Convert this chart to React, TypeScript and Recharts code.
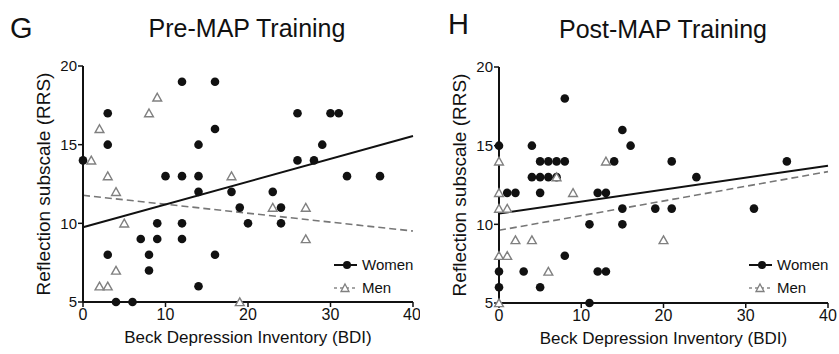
import React from 'react';
import { ScatterChart, Scatter, XAxis, YAxis, ReferenceLine, Legend } from 'recharts';

const FONT = '"Liberation Sans", Arial, Helvetica, sans-serif';

const bdiTicks = [0, 10, 20, 30, 40];
const rrsTicks = [5, 10, 15, 20];
const fitBdi = [0, 40];

// Pre-MAP training
const preWomenBdi = [0, 3, 3, 3, 4, 6, 7, 8, 8, 9, 9, 10, 12, 12, 12, 12, 14, 14, 14, 14, 16, 16, 16, 18, 19, 20, 23, 24, 24, 26, 26, 28, 29, 30, 31, 32, 36];
const preWomenRrs = [14, 17, 15, 8, 5, 5, 9, 8, 7, 10, 9, 13, 19, 13, 10, 9, 15, 13, 12, 6, 19, 16, 8, 12, 11, 10, 12, 11, 10, 17, 14, 14, 15, 17, 17, 13, 13];
const preMenBdi = [1, 2, 3, 4, 5, 4, 2, 3, 8, 9, 18, 19, 23, 27, 27];
const preMenRrs = [14, 16, 13, 12, 10, 7, 6, 6, 17, 18, 13, 5, 11, 11, 9];
const preWomenFit = [9.75, 15.55];
const preMenFit = [11.78, 9.51];

// Post-MAP training
const postWomenBdi = [0, 0, 0, 1, 2, 3, 4, 4, 5, 5, 5, 5, 6, 6, 7, 7, 8, 8, 8, 11, 11, 12, 13, 12, 13, 14, 15, 15, 15, 16, 19, 21, 21, 24, 31, 35];
const postWomenRrs = [15, 7, 6, 12, 12, 7, 15, 13, 14, 13, 12, 6, 14, 13, 14, 13, 18, 14, 8, 10, 5, 12, 12, 7, 7, 14, 16, 11, 10, 15, 11, 14, 11, 13, 11, 14];
const postMenBdi = [0, 0, 0, 0, 0, 1, 1, 2, 4, 6, 7, 9, 13, 20];
const postMenRrs = [14, 12, 11, 8, 5, 11, 8, 9, 9, 7, 13, 12, 14, 9];
const postWomenFit = [10.68, 13.73];
const postMenFit = [9.62, 13.35];

const zip = (xs: number[], ys: number[]) => xs.map((x, i) => ({ bdi: x, rrs: ys[i] }));

const Dot = (props: any) => <circle cx={props.cx} cy={props.cy} r={4.3} fill="#111" />;

const Tri = (props: any) => {
  const { cx, cy } = props;
  return (
    <path
      d={`M${cx},${cy - 4.2} L${cx + 4.4},${cy + 3.6} L${cx - 4.4},${cy + 3.6} Z`}
      fill="#fff"
      stroke="#808080"
      strokeWidth={1.4}
    />
  );
};

const LegendBox = () => (
  <div style={{ fontFamily: FONT, fontSize: 15, color: '#111' }}>
    <div style={{ display: 'flex', alignItems: 'center', height: 23 }}>
      <svg width={24} height={12} style={{ marginRight: 4 }}>
        <line x1={0} y1={6} x2={23} y2={6} stroke="#111" strokeWidth={2} />
        <circle cx={13} cy={6} r={4} fill="#111" />
      </svg>
      Women
    </div>
    <div style={{ display: 'flex', alignItems: 'center', height: 23 }}>
      <svg width={24} height={12} style={{ marginRight: 4 }}>
        <line x1={0} y1={6} x2={23} y2={6} stroke="#888" strokeWidth={1.4} strokeDasharray="3 3" />
        <path d="M11,2 L15,9.5 L7,9.5 Z" fill="#fff" stroke="#808080" strokeWidth={1.3} />
      </svg>
      Men
    </div>
  </div>
);

interface PanelProps {
  letter: string;
  title: string;
  women: { bdi: number; rrs: number }[];
  men: { bdi: number; rrs: number }[];
  womenFit: number[];
  menFit: number[];
  margin: { top: number; right: number; bottom: number; left: number };
  letterPos: { left: number; top: number };
  titleX: number;
  titleTop: number;
  legendLeft: number;
}

function Panel(p: PanelProps) {
  const axisStyle = { fontFamily: FONT, fill: '#111' };
  return (
    <div style={{ position: 'relative', width: 420, height: 354 }}>
      <div style={{ position: 'absolute', left: p.letterPos.left, top: p.letterPos.top, fontFamily: FONT, fontSize: 29, lineHeight: 1, color: '#111' }}>
        {p.letter}
      </div>
      <div style={{ position: 'absolute', left: p.titleX - 150, width: 300, top: p.titleTop, textAlign: 'center', fontFamily: FONT, fontSize: 25, lineHeight: 1, color: '#111' }}>
        {p.title}
      </div>
      <ScatterChart width={420} height={354} margin={p.margin}>
        <XAxis
          type="number"
          dataKey="bdi"
          domain={[0, 40]}
          ticks={bdiTicks}
          height={30}
          tickSize={5}
          tickMargin={2}
          axisLine={{ stroke: '#111', strokeWidth: 2 }}
          tickLine={{ stroke: '#111', strokeWidth: 1.5 }}
          tick={{ ...axisStyle, fontSize: 16 }}
          label={{ value: 'Beck Depression Inventory (BDI)', position: 'bottom', offset: -1, style: { ...axisStyle, fontSize: 17 } }}
        />
        <YAxis
          type="number"
          dataKey="rrs"
          domain={[5, 20]}
          ticks={rrsTicks}
          width={40}
          tickSize={5}
          tickMargin={1}
          axisLine={{ stroke: '#111', strokeWidth: 2 }}
          tickLine={{ stroke: '#111', strokeWidth: 1.5 }}
          tick={{ ...axisStyle, fontSize: 15 }}
          label={{ value: 'Reflection subscale (RRS)', angle: -90, position: 'insideLeft', offset: 0, style: { ...axisStyle, fontSize: 19, textAnchor: 'middle' } }}
        />
        <ReferenceLine
          segment={[{ x: fitBdi[0], y: p.menFit[0] }, { x: fitBdi[1], y: p.menFit[1] }]}
          stroke="#777"
          strokeWidth={1.6}
          strokeDasharray="7 4"
        />
        <ReferenceLine
          segment={[{ x: fitBdi[0], y: p.womenFit[0] }, { x: fitBdi[1], y: p.womenFit[1] }]}
          stroke="#111"
          strokeWidth={2}
        />
        <Scatter data={p.women} shape={Dot} isAnimationActive={false} />
        <Scatter data={p.men} shape={Tri} isAnimationActive={false} />
        <Legend
          layout="horizontal"
          verticalAlign="middle"
          align="center"
          content={() => <LegendBox />}
          wrapperStyle={{ left: p.legendLeft, top: 253, width: 90, height: 46 }}
        />
      </ScatterChart>
    </div>
  );
}

export default function App() {
  return (
    <div style={{ position: 'absolute', left: 0, top: 0, width: 839, height: 354, background: '#fff', display: 'flex' }}>
      <Panel
        letter="G"
        title="Pre-MAP Training"
        women={zip(preWomenBdi, preWomenRrs)}
        men={zip(preMenBdi, preMenRrs)}
        womenFit={preWomenFit}
        menFit={preMenFit}
        margin={{ top: 66, right: 7, bottom: 22, left: 43 }}
        letterPos={{ left: 10, top: 14 }}
        titleX={247}
        titleTop={16}
        legendLeft={334}
      />
      <Panel
        letter="H"
        title="Post-MAP Training"
        women={zip(postWomenBdi, postWomenRrs)}
        men={zip(postMenBdi, postMenRrs)}
        womenFit={postWomenFit}
        menFit={postMenFit}
        margin={{ top: 67, right: 12, bottom: 21, left: 39 }}
        letterPos={{ left: 28, top: 10 }}
        titleX={243}
        titleTop={17}
        legendLeft={329}
      />
    </div>
  );
}
